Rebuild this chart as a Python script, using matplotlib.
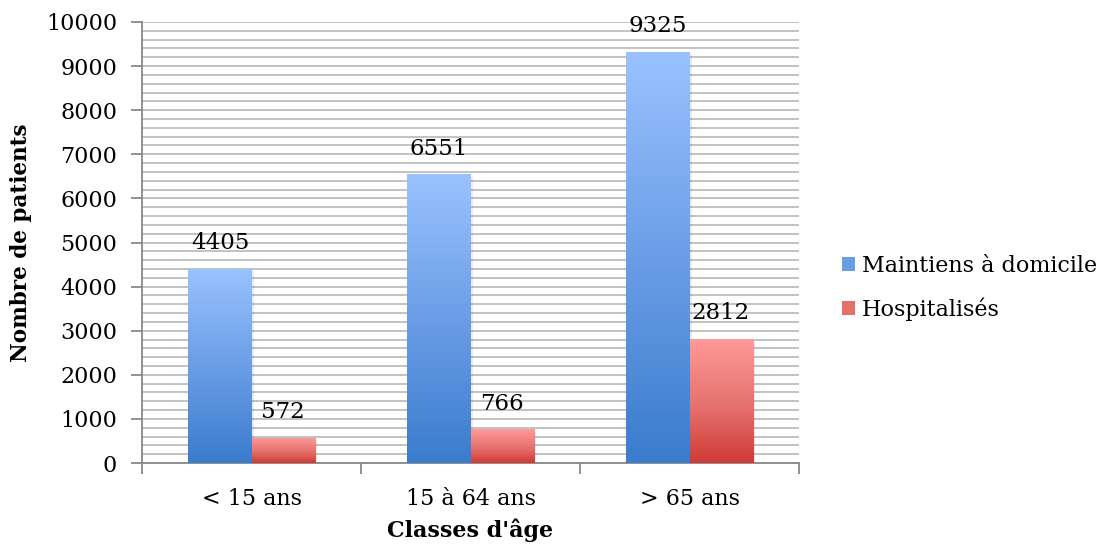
import numpy as np
import matplotlib.pyplot as plt
from matplotlib.colors import LinearSegmentedColormap
from matplotlib.patches import Patch
from matplotlib.ticker import MultipleLocator

categories = ['< 15 ans', '15 à 64 ans', '> 65 ans']
domicile = [4405, 6551, 9325]
hospitalises = [572, 766, 2812]
series_names = ['Maintiens à domicile', 'Hospitalisés']

plt.rcParams['font.family'] = ['DejaVu Serif']

fig = plt.figure(figsize=(11.05, 5.52), dpi=100)
ax = fig.add_axes([142/1105, 1 - 463/552, (799-142)/1105, (463-22)/552])

blue_cmap = LinearSegmentedColormap.from_list('b', ['#3b7ccd', '#6a9ee6', '#9ac2ff'])
red_cmap = LinearSegmentedColormap.from_list('r', [(0, '#cf3b36'), (0.45, '#e5716d'), (1, '#ff9a9a')])

x = np.arange(len(categories))
w = 0.288
bars_a = ax.bar(x - w/2, domicile, w, color='none', zorder=3)
bars_b = ax.bar(x + w/2, hospitalises, w, color='none', zorder=3)

grad = np.linspace(0, 1, 256).reshape(-1, 1)
for bars, cmap in [(bars_a, blue_cmap), (bars_b, red_cmap)]:
    for b in bars:
        x0, y0, bw, bh = b.get_x(), b.get_y(), b.get_width(), b.get_height()
        # faint shadow
        ax.bar(x0 + bw/2 + 0.01, bh, bw, bottom=-60, color='#000000', alpha=0.08, zorder=2)
        im = ax.imshow(grad, cmap=cmap, origin='lower', aspect='auto',
                       extent=[x0, x0 + bw, y0, y0 + bh], zorder=3)
        im.set_clip_path(b)
        ax.text(x0 + bw/2, bh + 330, f'{int(bh)}', ha='center', va='bottom',
                fontsize=16.5, zorder=4)

ax.set_xlim(-0.5, 2.5)
ax.set_ylim(0, 10000)
ax.yaxis.set_major_locator(MultipleLocator(1000))
ax.yaxis.set_minor_locator(MultipleLocator(200))
ax.grid(True, which='both', axis='y', color='#b8b8b8', linewidth=1.2, zorder=0)
ax.set_axisbelow(True)

ax.set_xticks(x)
ax.set_xticklabels(categories)
ax.set_xticks([-0.5, 0.5, 1.5, 2.5], minor=True)
ax.tick_params(axis='x', which='major', length=0, pad=18, labelsize=16)
ax.tick_params(axis='x', which='minor', length=8, width=1.3, color='#888888', direction='out')
ax.tick_params(axis='y', which='major', length=8, width=1.3, color='#888888', labelsize=16, pad=10)
ax.tick_params(axis='y', which='minor', length=0)

for s in ['top', 'right']:
    ax.spines[s].set_visible(False)
for s in ['left', 'bottom']:
    ax.spines[s].set_color('#888888')
    ax.spines[s].set_linewidth(1.3)

ax.set_ylabel('Nombre de patients', fontsize=15.5, fontweight='bold', labelpad=10)
ax.set_xlabel("Classes d'âge", fontsize=16, fontweight='bold', labelpad=6)

handles = [Patch(facecolor='#6a9ee6'), Patch(facecolor='#e5716d')]
fig.legend(handles, series_names, loc='center left', bbox_to_anchor=(822/1105, 1 - 288/552),
           frameon=False, fontsize=16, handlelength=0.6, handleheight=0.6,
           handletextpad=0.3, labelspacing=0.9)

fig.savefig('out.png', dpi=100)
